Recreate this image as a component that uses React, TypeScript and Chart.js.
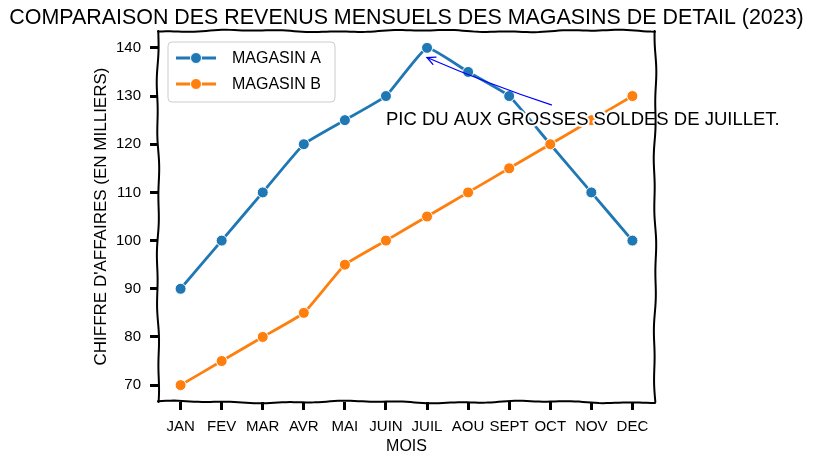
import React, { useEffect, useRef } from "react";
import { Chart, registerables } from "chart.js";

Chart.register(...registerables);

// ---- data ----
const months = ["JAN", "FEV", "MAR", "AVR", "MAI", "JUIN", "JUIL", "AOU", "SEPT", "OCT", "NOV", "DEC"];
const storeA = [90, 100, 110, 120, 125, 130, 140, 135, 130, 120, 110, 100];
const storeB = [70, 75, 80, 85, 95, 100, 105, 110, 115, 120, 125, 130];
const yTicks = [70, 80, 90, 100, 110, 120, 130, 140];
const seriesNames = ["MAGASIN A", "MAGASIN B"];
const seriesColors = ["#1f77b4", "#ff7f0e"];
const titleText = "COMPARAISON DES REVENUS MENSUELS DES MAGASINS DE DETAIL (2023)";
const xTitle = "MOIS";
const yTitle = "CHIFFRE D'AFFAIRES (EN MILLIERS)";
const annotText = "PIC DU AUX GROSSES SOLDES DE JUILLET.";
const annotTextAt = [5, 124];
const annotArrowAt = [6, 138];

const FONT = "'Liberation Sans', 'DejaVu Sans', sans-serif";

function fitSize(ctx: CanvasRenderingContext2D, text: string, target: number, base: number) {
  ctx.font = `${base}px ${FONT}`;
  const w = ctx.measureText(text).width;
  return (base * target) / w;
}

function wiggleLine(ctx: CanvasRenderingContext2D, x1: number, y1: number, x2: number, y2: number, phase: number) {
  const len = Math.hypot(x2 - x1, y2 - y1);
  const n = Math.max(2, Math.round(len / 4));
  const nx = -(y2 - y1) / len;
  const ny = (x2 - x1) / len;
  ctx.beginPath();
  for (let i = 0; i <= n; i++) {
    const t = i / n;
    const d = len * t;
    const off = 0.9 * Math.sin(d * 0.035 + phase) + 0.5 * Math.sin(d * 0.11 + phase * 2.3);
    const px = x1 + (x2 - x1) * t + nx * off;
    const py = y1 + (y2 - y1) * t + ny * off;
    if (i === 0) ctx.moveTo(px, py);
    else ctx.lineTo(px, py);
  }
  ctx.stroke();
}

const xkcdPlugin = {
  id: "xkcdDecor",
  afterDatasetsDraw(chart: any) {
    const { ctx, chartArea, scales } = chart;
    const xs = scales.x;
    const ys = scales.y;
    ctx.save();
    // annotation text
    const size = fitSize(ctx, annotText, 394, 16);
    ctx.font = `${size}px ${FONT}`;
    const tx = xs.getPixelForValue(annotTextAt[0]);
    const ty = ys.getPixelForValue(annotTextAt[1]);
    const tw = ctx.measureText(annotText).width;
    // arrow
    const ex = xs.getPixelForValue(annotArrowAt[0]);
    const ey = ys.getPixelForValue(annotArrowAt[1]);
    const cx = tx + tw / 2;
    const cy = ty - 8;
    const top = ty - 20;
    const t = (cy - top) / (cy - ey);
    const sx = cx + t * (ex - cx);
    const sy = top;
    const mx = (sx + ex) / 2;
    const my = (sy + ey) / 2;
    const dx = ex - sx;
    const dy = ey - sy;
    const dl = Math.hypot(dx, dy);
    const qx = mx + (-dy / dl) * -3;
    const qy = my + (dx / dl) * -3;
    ctx.strokeStyle = "#0000ff";
    ctx.lineWidth = 1.3;
    ctx.lineCap = "round";
    ctx.beginPath();
    ctx.moveTo(sx, sy);
    ctx.quadraticCurveTo(qx, qy, ex, ey);
    ctx.stroke();
    const ang = Math.atan2(ey - qy, ex - qx);
    const hl = 9;
    ctx.beginPath();
    ctx.moveTo(ex - hl * Math.cos(ang - 0.45), ey - hl * Math.sin(ang - 0.45));
    ctx.lineTo(ex, ey);
    ctx.lineTo(ex - hl * Math.cos(ang + 0.45), ey - hl * Math.sin(ang + 0.45));
    ctx.stroke();
    // text with white halo
    ctx.textAlign = "left";
    ctx.textBaseline = "alphabetic";
    ctx.lineJoin = "round";
    ctx.strokeStyle = "#ffffff";
    ctx.lineWidth = 4;
    ctx.strokeText(annotText, tx, ty);
    ctx.fillStyle = "#000000";
    ctx.fillText(annotText, tx, ty);

    // frame
    ctx.strokeStyle = "#000000";
    ctx.lineWidth = 2;
    const { left, right, top: at, bottom } = chartArea;
    wiggleLine(ctx, left, bottom, left, at, 0.3);
    wiggleLine(ctx, left, at, right, at, 1.7);
    wiggleLine(ctx, right, at, right, bottom, 2.9);
    wiggleLine(ctx, left, bottom, right, bottom, 4.1);
    ctx.restore();
  },
  afterDraw(chart: any) {
    const { ctx, chartArea } = chart;
    ctx.save();
    // title
    const tsize = fitSize(ctx, titleText, 795, 20);
    ctx.font = `${tsize}px ${FONT}`;
    ctx.fillStyle = "#000";
    ctx.textAlign = "center";
    ctx.textBaseline = "middle";
    ctx.fillText(titleText, (chartArea.left + chartArea.right) / 2, 18);

    // legend
    const lx = chartArea.left + 10;
    const ly = chartArea.top + 11;
    const lw = 167;
    const lh = 60;
    ctx.beginPath();
    ctx.roundRect(lx, ly, lw, lh, 4);
    ctx.fillStyle = "rgba(255,255,255,0.85)";
    ctx.fill();
    ctx.strokeStyle = "#cccccc";
    ctx.lineWidth = 1;
    ctx.stroke();
    seriesNames.forEach((name, i) => {
      const ry = ly + 16 + i * 26;
      ctx.strokeStyle = seriesColors[i];
      ctx.lineWidth = 2.8;
      ctx.beginPath();
      ctx.moveTo(lx + 8, ry);
      ctx.lineTo(lx + 48, ry);
      ctx.stroke();
      ctx.beginPath();
      ctx.arc(lx + 28, ry, 5.5, 0, Math.PI * 2);
      ctx.fillStyle = seriesColors[i];
      ctx.fill();
      ctx.strokeStyle = "#fff";
      ctx.lineWidth = 1;
      ctx.stroke();
      ctx.font = `16px ${FONT}`;
      ctx.fillStyle = "#000";
      ctx.textAlign = "left";
      ctx.textBaseline = "middle";
      ctx.fillText(name, lx + 64, ry + 1);
    });
    ctx.restore();
  },
};

export default function App() {
  const ref = useRef<HTMLCanvasElement | null>(null);

  useEffect(() => {
    document.body.style.margin = "0";
    const canvas = ref.current;
    if (!canvas) return;
    const toXY = (arr: number[]) => arr.map((v, i) => ({ x: i, y: v }));
    const mkLine = (data: number[], color: string, order: number) => ({
      label: "",
      data: toXY(data),
      borderColor: color,
      backgroundColor: color,
      borderWidth: 2.8,
      pointRadius: 5.5,
      pointBorderColor: "#ffffff",
      pointBorderWidth: 1,
      pointBackgroundColor: color,
      tension: 0.12,
      order,
    });
    const mkHalo = (data: number[], order: number) => ({
      label: "",
      data: toXY(data),
      borderColor: "#ffffff",
      borderWidth: 7,
      pointRadius: 0,
      tension: 0.12,
      order,
    });
    const chart = new Chart(canvas, {
      type: "line",
      data: {
        datasets: [
          { ...mkLine(storeA, seriesColors[0], 3), label: seriesNames[0] },
          mkHalo(storeA, 4),
          { ...mkLine(storeB, seriesColors[1], 1), label: seriesNames[1] },
          mkHalo(storeB, 2),
        ] as any,
      },
      options: {
        animation: false,
        responsive: false,
        devicePixelRatio: 1,
        layout: { padding: { left: 0, top: 31, right: 159, bottom: 0 } },
        plugins: {
          legend: { display: false },
          title: { display: false },
          tooltip: { enabled: false },
        },
        scales: {
          x: {
            type: "linear",
            min: -0.55,
            max: 11.55,
            afterBuildTicks: (s: any) => {
              s.ticks = months.map((_, i) => ({ value: i }));
            },
            afterFit: (s: any) => {
              s.height = 62;
            },
            ticks: {
              autoSkip: false,
              maxRotation: 0,
              minRotation: 0,
              padding: 8,
              color: "#000",
              font: { family: FONT, size: 15 },
              callback: (v: any) => months[v as number],
            },
            grid: {
              drawOnChartArea: false,
              drawTicks: true,
              tickLength: 8,
              tickWidth: 3,
              tickColor: "#000",
            },
            border: { display: false },
            title: {
              display: true,
              text: xTitle,
              color: "#000",
              font: { family: FONT, size: 16 },
              padding: { top: 0, bottom: 8 },
            },
          },
          y: {
            type: "linear",
            min: 66.5,
            max: 143.5,
            afterBuildTicks: (s: any) => {
              s.ticks = yTicks.map((v) => ({ value: v }));
            },
            afterFit: (s: any) => {
              s.width = 158;
            },
            ticks: {
              padding: 9,
              color: "#000",
              font: { family: FONT, size: 15 },
            },
            grid: {
              drawOnChartArea: false,
              drawTicks: true,
              tickLength: 8,
              tickWidth: 3,
              tickColor: "#000",
            },
            border: { display: false },
            title: {
              display: true,
              text: yTitle,
              color: "#000",
              font: { family: FONT, size: 17 },
              padding: { top: 91, bottom: 0 },
            },
          },
        },
      },
      plugins: [xkcdPlugin],
    } as any);
    return () => chart.destroy();
  }, []);

  return (
    <div style={{ width: 814, height: 464, background: "#fff" }}>
      <canvas ref={ref} width={814} height={464} style={{ display: "block" }} />
    </div>
  );
}
